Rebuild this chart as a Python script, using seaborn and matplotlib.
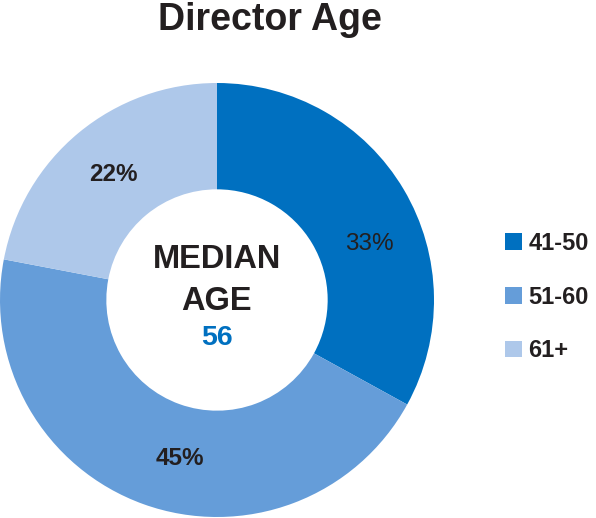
import numpy as np
import seaborn as sns
import matplotlib.pyplot as plt

sns.set_theme(style="white")
plt.rcParams["font.family"] = ["Liberation Sans", "DejaVu Sans"]

age_groups = ["41-50", "51-60", "61+"]
shares = [33, 45, 22]
colors = ["#0070C0", "#659DD9", "#AEC8EA"]
label_weights = ["normal", "bold", "bold"]
label_angle_shift = [-10.5, 6.5, 0]
median_age = 56

fig = plt.figure(figsize=(5.96, 5.18), dpi=100)
ax = fig.add_axes([0 / 596, 1 / 518, 434 / 596, 434 / 518])

wedges, _ = ax.pie(shares, colors=colors, startangle=90, counterclock=False,
                   radius=1.0, wedgeprops=dict(width=0.49, linewidth=0))
ax.set_xlim(-1, 1)
ax.set_ylim(-1, 1)
ax.set_aspect("equal")
ax.axis("off")

for w, val, wt, shift in zip(wedges, shares, label_weights, label_angle_shift):
    ang = np.deg2rad((w.theta1 + w.theta2) / 2 + shift)
    r = 0.75
    ax.text(r * np.cos(ang), r * np.sin(ang), f"{val}%", ha="center", va="center",
            fontsize=17.5, fontweight=wt, color="#231F20")

ax.text(0, 0.185, "MEDIAN", ha="center", va="center", fontsize=23.5,
        fontweight="bold", color="#231F20")
ax.text(0, -0.005, "AGE", ha="center", va="center", fontsize=23.5,
        fontweight="bold", color="#231F20")
ax.text(0, -0.175, str(median_age), ha="center", va="center", fontsize=20.5,
        fontweight="bold", color="#0070C0")

fig.text(270 / 596, 1 - 30 / 518, "Director Age", ha="center", va="baseline",
         fontsize=27, fontweight="bold", color="#231F20")

leg = fig.legend(wedges, age_groups, loc="center left",
                 bbox_to_anchor=(505 / 596, 1 - 297 / 518), frameon=False,
                 borderpad=0, borderaxespad=0,
                 handlelength=0.7, handleheight=0.7, handletextpad=0.3,
                 labelspacing=1.3, prop=dict(size=17, weight="bold"))
for t in leg.get_texts():
    t.set_color("#231F20")

fig.savefig("out.png", dpi=100, facecolor="white")
